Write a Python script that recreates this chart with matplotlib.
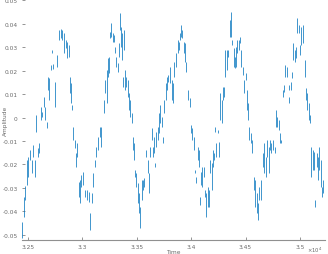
import numpy as np
import matplotlib
matplotlib.use('Agg')
import matplotlib.pyplot as plt

# --- Data: each stroke is (time, low, high) ---
time = [32451, 32466, 32473, 32491, 32503, 32521, 32537, 32552, 32564, 32580,
        32594, 32604, 32619, 32635, 32649, 32662, 32680, 32686, 32695, 32711,
        32726, 32735, 32750, 32772, 32787, 32802, 32818, 32833, 32848, 32864,
        32878, 32887, 32900, 32909, 32919, 32931, 32940, 32949, 32970, 32979,
        32992, 33010, 33031, 33047, 33062, 33077, 33093, 33102, 33114, 33132,
        33144, 33162, 33175, 33199, 33212, 33224, 33236, 33248, 33254, 33267,
        33279, 33291, 33303, 33315, 33327, 33340, 33352, 33358, 33370, 33382,
        33377, 33395, 33407, 33419, 33432, 33443, 33459, 33468, 33480, 33487,
        33498, 33510, 33523, 33535, 33547, 33560, 33572, 33590, 33602, 33615,
        33627, 33639, 33651, 33663, 33672, 33681, 33694, 33706, 33718, 33730,
        33743, 33755, 33767, 33779, 33792, 33803, 33822, 33835, 33847, 33858,
        33877, 33890, 33901, 33908, 33920, 33932, 33945, 33956, 33975, 33987,
        34000, 34011, 34023, 34036, 34048, 34060, 34073, 34078, 34091, 34103,
        34115, 34128, 34140, 34152, 34164, 34176, 34188, 34201, 34213, 34222,
        34231, 34243, 34256, 34268, 34280, 34293, 34305, 34316, 34329, 34341,
        34353, 34366, 34378, 34390, 34403, 34414, 34426, 34439, 34451, 34463,
        34476, 34488, 34500, 34513, 34524, 34536, 34549, 34561, 34579, 34591,
        34604, 34616, 34628, 34646, 34659, 34671, 34689, 34701, 34714, 34726,
        34738, 34751, 34769, 34781, 34793, 34806, 34817, 34829, 34842, 34854,
        34866, 34879, 34897, 34902, 34915, 34927, 34939, 34952, 34964, 34976,
        34989, 35001, 35013, 35025, 35044, 35056, 35068, 35081, 35092, 35104,
        35117, 35129, 35141, 35154, 35166, 35178, 35191, 35203, 35215]

amp_high = [-0.0444, -0.0339, -0.0292, -0.0180, -0.0167, -0.0137, -0.0180, -0.0116, -0.0180, 0.0011,
            -0.0129, -0.0108, 0.0046, 0.0024, 0.0088, 0.0046, -0.0018, 0.0173, 0.0169, 0.0224,
            0.0288, 0.0229, 0.0152, 0.0267, 0.0373, 0.0377, 0.0373, 0.0360, 0.0331, 0.0322,
            0.0309, 0.0173, 0.0148, 0.0054, -0.0040, -0.0095, -0.0150, -0.0108, -0.0274, -0.0265,
            -0.0244, -0.0231, -0.0308, -0.0308, -0.0316, -0.0406, -0.0320, -0.0235, -0.0180, -0.0125,
            -0.0082, -0.0040, -0.0040, 0.0075, 0.0160, 0.0203, 0.0254, 0.0258, 0.0365, 0.0403,
            0.0360, 0.0352, 0.0301, 0.0258, 0.0233, 0.0318, 0.0446, 0.0386, 0.0360, 0.0373,
            0.0173, 0.0203, 0.0173, 0.0160, 0.0105, 0.0075, 0.0020, -0.0082, -0.0108, -0.0223,
            -0.0235, -0.0278, -0.0320, -0.0380, -0.0265, -0.0265, -0.0257, -0.0137, -0.0180, -0.0235,
            -0.0125, -0.0044, -0.0125, -0.0082, -0.0193, -0.0061, -0.0040, 0.0020, 0.0054, 0.0003,
            -0.0082, 0.0075, 0.0148, 0.0173, 0.0182, 0.0216, 0.0160, 0.0148, 0.0237, 0.0275,
            0.0331, 0.0322, 0.0360, 0.0394, 0.0373, 0.0322, 0.0318, 0.0237, 0.0118, 0.0084,
            -0.0031, -0.0044, -0.0082, -0.0223, -0.0252, -0.0125, -0.0137, -0.0337, -0.0231, -0.0210,
            -0.0210, -0.0308, -0.0320, -0.0295, -0.0308, -0.0180, -0.0193, -0.0137, -0.0150, -0.0040,
            -0.0108, -0.0052, -0.0103, 0.0105, 0.0075, 0.0131, 0.0131, 0.0288, 0.0288, 0.0288,
            0.0416, 0.0450, 0.0331, 0.0297, 0.0258, 0.0301, 0.0331, 0.0331, 0.0343, 0.0288,
            0.0216, 0.0160, 0.0190, 0.0118, 0.0063, -0.0040, -0.0065, -0.0095, -0.0252, -0.0265,
            -0.0320, -0.0363, -0.0295, -0.0265, -0.0150, -0.0108, -0.0167, -0.0095, -0.0125, -0.0095,
            -0.0108, -0.0095, -0.0125, 0.0033, 0.0003, -0.0010, -0.0065, -0.0095, 0.0118, 0.0139,
            0.0224, 0.0216, 0.0139, 0.0088, 0.0152, 0.0194, 0.0318, 0.0288, 0.0301, 0.0424,
            0.0394, 0.0309, 0.0386, 0.0394, 0.0246, 0.0126, 0.0105, 0.0063, 0.0011, -0.0125,
            -0.0137, -0.0146, -0.0350, -0.0150, -0.0167, -0.0125, -0.0180, -0.0295, -0.0265]

amp_low = [-0.0512, -0.0423, -0.0350, -0.0287, -0.0252, -0.0180, -0.0235, -0.0167, -0.0252, -0.0061,
           -0.0167, -0.0150, -0.0010, 0.0003, 0.0046, -0.0010, -0.0044, 0.0118, 0.0075, 0.0203,
           0.0275, 0.0207, 0.0046, 0.0216, 0.0331, 0.0339, 0.0331, 0.0275, 0.0297, 0.0254,
           0.0258, 0.0105, 0.0063, 0.0033, -0.0095, -0.0129, -0.0210, -0.0167, -0.0337, -0.0363,
           -0.0295, -0.0286, -0.0337, -0.0350, -0.0359, -0.0478, -0.0363, -0.0295, -0.0210, -0.0167,
           -0.0137, -0.0082, -0.0125, 0.0020, 0.0105, 0.0063, 0.0173, 0.0190, 0.0339, 0.0343,
           0.0322, 0.0322, 0.0275, 0.0216, 0.0194, 0.0258, 0.0373, 0.0301, 0.0246, 0.0288,
           0.0131, 0.0118, 0.0131, 0.0088, 0.0033, 0.0003, -0.0023, -0.0137, -0.0180, -0.0252,
           -0.0295, -0.0363, -0.0406, -0.0469, -0.0350, -0.0308, -0.0295, -0.0167, -0.0235, -0.0320,
           -0.0167, -0.0095, -0.0167, -0.0150, -0.0210, -0.0125, -0.0095, -0.0065, -0.0023, -0.0040,
           -0.0108, 0.0020, 0.0075, 0.0118, 0.0152, 0.0148, 0.0075, 0.0063, 0.0173, 0.0216,
           0.0275, 0.0288, 0.0331, 0.0343, 0.0339, 0.0275, 0.0237, 0.0194, 0.0075, 0.0046,
           -0.0065, -0.0095, -0.0137, -0.0235, -0.0278, -0.0180, -0.0210, -0.0371, -0.0286, -0.0295,
           -0.0252, -0.0337, -0.0423, -0.0380, -0.0380, -0.0235, -0.0308, -0.0210, -0.0180, -0.0061,
           -0.0167, -0.0065, -0.0167, -0.0010, -0.0023, 0.0075, 0.0088, 0.0173, 0.0203, 0.0258,
           0.0343, 0.0343, 0.0309, 0.0216, 0.0211, 0.0216, 0.0275, 0.0288, 0.0318, 0.0216,
           0.0182, 0.0105, 0.0160, 0.0033, -0.0010, -0.0095, -0.0108, -0.0150, -0.0308, -0.0380,
           -0.0406, -0.0435, -0.0350, -0.0350, -0.0210, -0.0235, -0.0252, -0.0167, -0.0235, -0.0137,
           -0.0150, -0.0137, -0.0150, -0.0040, -0.0040, -0.0052, -0.0108, -0.0108, 0.0088, 0.0109,
           0.0173, 0.0173, 0.0118, 0.0063, 0.0118, 0.0169, 0.0246, 0.0237, 0.0254, 0.0360,
           0.0360, 0.0267, 0.0309, 0.0318, 0.0173, 0.0075, 0.0033, -0.0010, -0.0023, -0.0252,
           -0.0223, -0.0223, -0.0380, -0.0210, -0.0265, -0.0223, -0.0295, -0.0337, -0.0320]

x_ticks = [32500, 33000, 33500, 34000, 34500, 35000]
x_tick_labels = ['3.25', '3.3', '3.35', '3.4', '3.45', '3.5']
y_ticks = [-0.05, -0.04, -0.03, -0.02, -0.01, 0, 0.01, 0.02, 0.03, 0.04, 0.05]
y_tick_labels = ['-0.05', '-0.04', '-0.03', '-0.02', '-0.01', '0',
                 '0.01', '0.02', '0.03', '0.04', '0.05']

text_color = '#6a6a6a'

# --- Plot ---
fig = plt.figure(figsize=(3.28, 2.55), dpi=100)
ax = fig.add_axes([0.066, 0.055, 0.925, 0.94])

ax.vlines(time, amp_low, amp_high, color='#0072BD', linewidth=0.7, alpha=0.75)

ax.set_xlim(32445, 35230)
ax.set_ylim(-0.0522, 0.05)
ax.set_xticks(x_ticks)
ax.set_xticklabels(x_tick_labels)
ax.set_yticks(y_ticks)
ax.set_yticklabels(y_tick_labels)

for side in ['top', 'right', 'left']:
    ax.spines[side].set_visible(False)
ax.spines['bottom'].set_color('#909090')
ax.spines['bottom'].set_linewidth(0.8)
ax.tick_params(direction='in', length=2, width=0.5, colors=text_color,
               labelsize=4.2, pad=3)

ax.set_xlabel('Time', fontsize=4.2, color=text_color, labelpad=0)
ax.set_ylabel('Amplitude', fontsize=4.2, color=text_color)
ax.yaxis.set_label_coords(-0.045, 0.5)
ax.text(0.99, -0.02, r'$\times10^4$', transform=ax.transAxes, fontsize=3.8,
        color=text_color, ha='right', va='top')

fig.savefig('out.png', dpi=100)
